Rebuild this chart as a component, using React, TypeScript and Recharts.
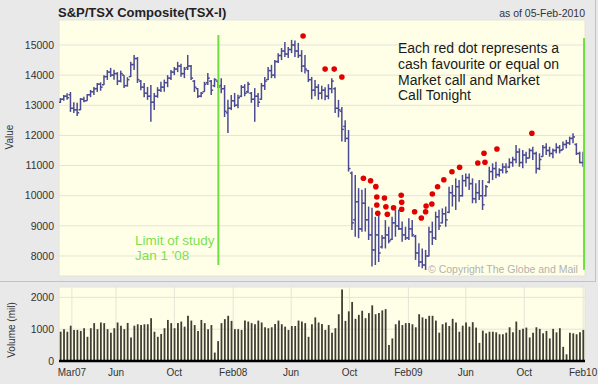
import React from 'react';
import { ComposedChart, BarChart, Bar, Scatter, XAxis, YAxis, CartesianGrid, ReferenceLine } from 'recharts';

// Days counted from 1 Jan 2007; weekly bars start on Monday 5 Feb 2007
const FIRST_WEEK_DAY = 35;

const weekLow = [
  13080, 13150, 13180, 12780, 12740, 12640, 12840, 13100, 13150, 13270, 13340, 13440, 13480, 13670, 13840, 13940, 13850, 13670, 13760, 13570,
  13620, 13940, 14170, 13740, 13500, 13270, 13180, 12450, 12840, 13250, 13440, 13450, 13600, 13840, 14000, 14100, 13950, 13900, 14170, 13840,
  13440, 13240, 13270, 13450, 13670, 13340, 13600, 13570, 13400, 12610, 12080, 12840, 12940, 12900, 13270, 13300, 13400, 13080, 12450, 12940,
  13180, 13510, 13840, 13900, 13900, 14400, 14500, 14600, 14570, 14730, 14600, 14570, 14100, 14050, 13770, 13200, 13300, 13180, 13200, 13170,
  13200, 13400, 12740, 12600, 11800, 11780, 10800, 8860, 8640, 8590, 8800, 8810, 8530, 7650, 7700, 7800, 8250, 8250, 8420, 8530,
  8640, 8860, 8475, 8530, 8530, 8640, 7870, 7645, 7590, 7535, 7980, 8365, 8530, 8860, 9080, 8970, 9415, 9640, 9525, 9800,
  9970, 10300, 10190, 9750, 9750, 9860, 9525, 9970, 10410, 10520, 10575, 10630, 10740, 10740, 10910, 10960, 11075, 10960, 10910, 11075,
  11240, 11185, 10740, 10850, 11295, 11350, 11295, 11240, 11405, 11405, 11515, 11570, 11685, 11740, 11350, 11075, 10960,
];
const weekHigh = [
  13240, 13340, 13400, 13440, 13100, 13080, 13240, 13280, 13370, 13510, 13610, 13740, 13760, 14000, 14170, 14240, 14180, 14100, 14150, 14000,
  13930, 14440, 14670, 14600, 13840, 13740, 13610, 13670, 13410, 13600, 13780, 13850, 14000, 14170, 14270, 14440, 14380, 14270, 14670, 14340,
  13840, 13570, 13440, 13780, 14070, 13840, 13900, 13840, 13900, 13670, 13180, 13340, 13410, 13350, 13670, 13700, 13780, 13440, 13570, 13410,
  13740, 13940, 14270, 14340, 14500, 14730, 14900, 15100, 14930, 15170, 15150, 15070, 14830, 14670, 14170, 13940, 13840, 13700, 13650, 13600,
  13700, 13900, 13600, 13180, 12940, 12500, 12180, 10800, 10690, 10250, 10200, 10250, 9640, 9600, 9300, 9350, 8700, 9190, 8970, 9300,
  9530, 9530, 9140, 8970, 9250, 9190, 8700, 8420, 8250, 8200, 8970, 9140, 9470, 9530, 9580, 9640, 10300, 10355, 10575, 10520,
  10690, 10740, 10740, 10575, 10410, 10520, 10520, 10355, 10960, 11075, 11130, 10910, 11075, 11075, 11240, 11295, 11680, 11570, 11515, 11460,
  11570, 11625, 11460, 11405, 11680, 11740, 11625, 11570, 11740, 11680, 11795, 11850, 11960, 12070, 11740, 11460, 11460,
];
const weekOpen = [
  13100, 13200, 13300, 13350, 12900, 12850, 12850, 13200, 13150, 13350, 13450, 13550, 13700, 13680, 13950, 14100, 14000, 14050, 13800, 14000,
  13650, 13950, 14350, 14550, 13800, 13600, 13400, 13300, 13100, 13300, 13500, 13600, 13750, 13900, 14100, 14200, 14300, 14050, 14250, 14300,
  13800, 13550, 13300, 13450, 13750, 13800, 13650, 13800, 13650, 13550, 12750, 12900, 13150, 13000, 13300, 13600, 13450, 13400, 13200, 13300,
  13200, 13650, 13850, 14150, 14000, 14450, 14650, 14800, 14700, 14850, 15000, 14800, 14650, 14300, 14150, 13850, 13500, 13600, 13400, 13500,
  13300, 13550, 13550, 12900, 12800, 12300, 11900, 10750, 9200, 9800, 8900, 9750, 9200, 8700, 8200, 8700, 8300, 8600, 8700, 8550,
  9100, 9000, 8900, 8700, 8600, 8900, 8650, 8100, 7800, 7700, 8000, 8800, 8600, 9300, 9100, 9400, 9450, 10100, 10000, 10300,
  10000, 10500, 10600, 10400, 9900, 10100, 10000, 10000, 10450, 10800, 10900, 10700, 10850, 10950, 10950, 11100, 11200, 11450, 11100, 11350,
  11250, 11500, 11400, 10900, 11300, 11600, 11500, 11400, 11500, 11600, 11520, 11700, 11750, 11900, 11700, 11400, 11100,
];
const weekClose = [
  13200, 13300, 13250, 12900, 12850, 12750, 13200, 13150, 13350, 13450, 13550, 13700, 13600, 13950, 14100, 14000, 14050, 13800, 14050, 13650,
  13850, 14350, 14550, 13850, 13600, 13400, 13300, 13100, 13300, 13500, 13600, 13750, 13900, 14100, 14200, 14300, 14050, 14200, 14300, 13900,
  13600, 13300, 13400, 13700, 13900, 13500, 13850, 13600, 13550, 12800, 12900, 13150, 13000, 13250, 13600, 13400, 13700, 13200, 13300, 13100,
  13650, 13800, 14150, 14000, 14450, 14650, 14800, 14700, 14850, 15000, 14800, 14650, 14300, 14200, 13850, 13500, 13600, 13400, 13500, 13300,
  13550, 13800, 12900, 12850, 12200, 11900, 10900, 9100, 9800, 8900, 9750, 9200, 8700, 8200, 8700, 8100, 8600, 8700, 8500, 9100,
  9000, 8900, 8700, 8600, 8900, 8700, 8100, 7800, 7700, 8000, 8800, 8600, 9300, 9000, 9400, 9200, 10100, 10000, 10300, 10000,
  10500, 10600, 10400, 9900, 10100, 10000, 9700, 10300, 10800, 10900, 10700, 10850, 10950, 10800, 11100, 11200, 11450, 11100, 11350, 11250,
  11500, 11400, 10900, 11200, 11600, 11500, 11400, 11500, 11600, 11500, 11700, 11750, 11900, 11950, 11400, 11100, 11000,
];
const weekVolume = [
  922, 1000, 920, 1110, 975, 975, 945, 1030, 760, 1030, 1190, 1000, 1210, 1190, 1000, 890, 1030, 1210, 1110, 1000,
  1190, 740, 1110, 1155, 1130, 1155, 1155, 1345, 920, 760, 850, 1030, 1290, 1190, 1030, 1190, 1240, 1080, 1420, 1270,
  1130, 945, 1290, 1190, 1000, 1130, 265, 625, 1190, 1315, 1420, 1260, 1000, 1000, 975, 1270, 1240, 1190, 1155, 1270,
  1210, 1060, 1030, 1060, 1165, 1270, 1155, 1080, 975, 1100, 1100, 1270, 1240, 1190, 760, 1155, 1370, 1210, 1165, 975,
  1130, 890, 1030, 1470, 2250, 1260, 1560, 1855, 1325, 1450, 1580, 1345, 1505, 1750, 1470, 1505, 1590, 1630, 500, 710,
  1155, 1270, 1130, 1190, 1190, 1155, 1060, 1470, 1370, 1325, 1420, 1420, 1270, 890, 1155, 1210, 1100, 1325, 1210, 920,
  1110, 1210, 1080, 1220, 1050, 570, 955, 870, 920, 920, 900, 840, 840, 890, 1060, 900, 1240, 975, 1010, 1050,
  740, 890, 1060, 1010, 870, 945, 710, 1010, 900, 1030, 445, 210, 890, 870, 840, 900, 975,
];

// Red dots: "cash favourite or equal" calls (day, index value)
const dotDays = [542, 588, 607, 623, 668, 683, 694, 696, 696, 698, 712, 715, 718, 731, 747, 748, 748, 775, 789, 798, 799, 811, 812, 823, 836, 853, 869, 907, 920, 922, 947, 1020];
const dotValues = [15300, 14200, 14200, 13940, 10577, 10498, 10300, 9957, 9692, 9416, 9924, 9635, 9383, 9602, 10013, 9781, 9549, 9469, 9260, 9469, 9658, 9725, 10056, 10299, 10531, 10796, 10942, 11085, 11407, 11108, 11549, 12070];

const monthTicks = [59, 151, 273, 396, 517, 639, 762, 882, 1004, 1127];
const monthLabels = ['Mar07', 'Jun', 'Oct', 'Feb08', 'Jun', 'Oct', 'Feb09', 'Jun', 'Oct', 'Feb10'];
const priceTicks = [8000, 9000, 10000, 11000, 12000, 13000, 14000, 15000];
const volumeTicks = [0, 1000, 2000];

const studyStartDay = 365;
const studyEndDay = 1129;

const weeks = weekHigh.map((h, i) => ({
  d: FIRST_WEEK_DAY + 7 * i,
  high: h,
  low: weekLow[i],
  open: weekOpen[i],
  close: weekClose[i],
  volume: weekVolume[i],
}));
const dots = dotDays.map((d, i) => ({ d, v: dotValues[i] }));

const X_DOMAIN: [number, number] = [32, 1131];
const AXIS_FONT = '"Liberation Sans", Arial, sans-serif';
const BAR_BLUE = '#4A4A96';

const OhlcShape = (props: any) => {
  const { x, y, width, height, payload } = props;
  if (payload == null || x == null || y == null || height == null) return null;
  const cx = x + width / 2;
  const span = payload.high - payload.low || 1;
  const yOpen = y + ((payload.high - payload.open) / span) * height;
  const yClose = y + ((payload.high - payload.close) / span) * height;
  return (
    <g stroke={BAR_BLUE} strokeWidth={1.5}>
      <line x1={cx} x2={cx} y1={y} y2={y + height} />
      <line x1={cx - 2} x2={cx} y1={yOpen} y2={yOpen} />
      <line x1={cx} x2={cx + 2} y1={yClose} y2={yClose} />
    </g>
  );
};

const DotShape = (props: any) => {
  const { cx, cy } = props;
  if (cx == null || cy == null) return null;
  return <circle cx={cx} cy={cy} r={2.8} fill="#E00000" />;
};

const monthFormatter = (v: number) => {
  const idx = monthTicks.indexOf(v);
  return idx >= 0 ? monthLabels[idx] : '';
};

export default function App() {
  return (
    <div style={{ position: 'absolute', left: 0, top: 0, width: 598, height: 384, background: '#E9E9E9', overflow: 'hidden' }}>
      <div style={{ position: 'absolute', left: 0, top: 0 }}>
        <ComposedChart width={598} height={282} data={weeks} margin={{ top: 20, right: 13, left: 0, bottom: 6 }}>
          <CartesianGrid stroke="#E4E4D6" fill="#FFFFE8" vertical horizontal />
          <XAxis
            dataKey="d"
            type="number"
            domain={X_DOMAIN}
            ticks={monthTicks}
            allowDataOverflow
            height={0}
            tick={false}
            axisLine={false}
            tickLine={false}
          />
          <YAxis
            type="number"
            domain={[7336, 15829]}
            ticks={priceTicks}
            allowDataOverflow
            width={59}
            tickLine={false}
            axisLine={false}
            tickSize={3}
            tickMargin={2}
            tick={{ fontSize: 10.5, fill: '#333', fontFamily: AXIS_FONT }}
          />
          <Bar
            dataKey={(e: any) => [e.low, e.high]}
            barSize={3}
            shape={<OhlcShape />}
            isAnimationActive={false}
          />
          <Scatter data={dots} dataKey="v" shape={<DotShape />} isAnimationActive={false} />
          <ReferenceLine
            segment={[{ x: studyStartDay, y: 15330 }, { x: studyStartDay, y: 7700 }]}
            stroke="#6EE03E"
            strokeWidth={2}
          />
          <ReferenceLine
            segment={[{ x: studyEndDay, y: 15230 }, { x: studyEndDay, y: 7540 }]}
            stroke="#6EE03E"
            strokeWidth={2}
          />
        </ComposedChart>
      </div>
      <div style={{ position: 'absolute', left: 0, top: 282 }}>
        <BarChart width={598} height={102} data={weeks} margin={{ top: 5, right: 13, left: 0, bottom: 0 }}>
          <CartesianGrid stroke="#E4E4D6" fill="#FFFFE8" vertical horizontal />
          <XAxis
            dataKey="d"
            type="number"
            domain={X_DOMAIN}
            ticks={monthTicks}
            allowDataOverflow
            height={23}
            tickFormatter={monthFormatter}
            tickLine={false}
            axisLine={{ stroke: '#000', strokeWidth: 2.5 }}
            tick={{ fontSize: 10, fill: '#333', fontFamily: AXIS_FONT }}
            interval={0}
          />
          <YAxis
            type="number"
            domain={[0, 2325]}
            ticks={volumeTicks}
            allowDataOverflow
            width={59}
            tickLine={false}
            axisLine={false}
            tickSize={3}
            tickMargin={2}
            tick={{ fontSize: 10.5, fill: '#333', fontFamily: AXIS_FONT }}
          />
          <Bar dataKey="volume" barSize={1.8} fill="#3E3E34" isAnimationActive={false} />
        </BarChart>
      </div>
      <svg width={598} height={384} style={{ position: 'absolute', left: 0, top: 0, pointerEvents: 'none' }}>
        <line x1={0} x2={596} y1={281.5} y2={281.5} stroke="#C2C2C2" />
        <line x1={595.5} x2={595.5} y1={0} y2={281} stroke="#C2C2C2" />
        <text x={58} y={17} fontFamily={AXIS_FONT} fontWeight="bold" fontSize={13} fill="#222">S&amp;P/TSX Composite(TSX-I)</text>
        <text x={585} y={17} textAnchor="end" fontFamily={AXIS_FONT} fontSize={10.5} fill="#333">as of 05-Feb-2010</text>
        <g fontFamily={AXIS_FONT} fontSize={14} fill="#1A1A1A">
          <text x={398} y={53}>Each red dot represents a</text>
          <text x={398} y={69}>cash favourite or equal on</text>
          <text x={398} y={85}>Market call and Market</text>
          <text x={398} y={100}>Call Tonight</text>
        </g>
        <g fontFamily={AXIS_FONT} fontSize={13.5} fill="#7EDF4F">
          <text x={135} y={245}>Limit of study</text>
          <text x={135} y={260}>Jan 1 '08</text>
        </g>
        <text x={428} y={273} fontFamily={AXIS_FONT} fontSize={10.5} fill="#B2B2B2">© Copyright The Globe and Mail</text>
        <text transform="translate(12.5,137) rotate(-90)" textAnchor="middle" fontFamily={AXIS_FONT} fontSize={10} fill="#333">Value</text>
        <text transform="translate(15,330) rotate(-90)" textAnchor="middle" fontFamily={AXIS_FONT} fontSize={10} fill="#333">Volume (mil)</text>
      </svg>
    </div>
  );
}
